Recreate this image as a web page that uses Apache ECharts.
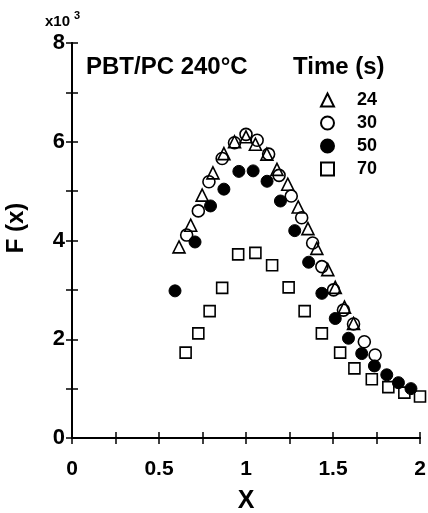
<!DOCTYPE html>
<html>
<head>
<meta charset="utf-8">
<script src="https://cdn.jsdelivr.net/npm/echarts@6/dist/echarts.min.js"></script>
<style>html,body{margin:0;padding:0;background:#fff}#c{width:428px;height:513px}</style>
</head>
<body>
<div id="c"></div>
<script>
// F(x) values in units of 10^3
const seriesNames = ['24', '30', '50', '70'];
const x24 = [0.615,0.682,0.748,0.81,0.873,0.934,1.0,1.054,1.12,1.178,1.24,1.30,1.356,1.407,1.47,1.513,1.566,1.618];
const y24 = [3.87,4.31,4.92,5.37,5.76,6.0,6.10,5.95,5.75,5.44,5.14,4.68,4.24,3.84,3.41,3.05,2.65,2.32];
const x30 = [0.659,0.726,0.787,0.863,0.934,1.0,1.064,1.13,1.19,1.26,1.32,1.383,1.436,1.503,1.56,1.618,1.68,1.742];
const y30 = [4.11,4.6,5.19,5.66,5.98,6.15,6.03,5.75,5.32,4.9,4.46,3.95,3.47,3.0,2.59,2.31,1.95,1.68];
const x50 = [0.592,0.707,0.796,0.873,0.959,1.041,1.121,1.198,1.28,1.36,1.436,1.513,1.589,1.665,1.738,1.809,1.876,1.948];
const y50 = [2.98,3.97,4.70,5.04,5.40,5.41,5.20,4.80,4.20,3.56,2.93,2.42,2.02,1.71,1.46,1.28,1.12,1.0];
const x70 = [0.653,0.726,0.791,0.863,0.955,1.054,1.15,1.245,1.337,1.436,1.541,1.623,1.723,1.818,1.91,2.0];
const y70 = [1.73,2.12,2.57,3.04,3.72,3.75,3.50,3.05,2.57,2.12,1.73,1.41,1.19,1.03,0.92,0.84];
const xTicks = [0, 0.5, 1, 1.5, 2];
const yTicks = [0, 2, 4, 6, 8];

const zip = (a, b) => a.map((v, i) => [v, b[i]]);
const FONT = '"Liberation Sans", Arial, Helvetica, sans-serif';

const chart = echarts.init(document.getElementById('c'), null, {renderer: 'canvas'});

const axisLineStyle = {color: '#000', width: 2};
const tickStyle = {color: '#000', width: 1.5};
const openStyle = {color: 'rgba(255,255,255,0)', borderColor: '#000', borderWidth: 1.6, opacity: 1};

const option = {
  animation: false,
  backgroundColor: '#fff',
  textStyle: {fontFamily: FONT},
  grid: {left: 72, right: 8, top: 43, bottom: 75, containLabel: false, outerBoundsMode: 'none'},
  title: [
    {text: 'PBT/PC 240°C', left: 86, top: 55, padding: 0,
     textStyle: {fontFamily: FONT, fontSize: 24, fontWeight: 'bold', color: '#000', lineHeight: 24}},
    {text: 'Time (s)', left: 293, top: 55, padding: 0,
     textStyle: {fontFamily: FONT, fontSize: 24, fontWeight: 'bold', color: '#000', lineHeight: 24}},
    {text: 'x10{s|3}', left: 45, top: 14, padding: 0,
     textStyle: {fontFamily: FONT, fontSize: 15, fontWeight: 'bold', color: '#000', lineHeight: 15,
       rich: {s: {fontFamily: FONT, fontSize: 11, fontWeight: 'bold', color: '#000', padding: [0, 0, 12, 4]}}}}
  ],
  legend: {
    orient: 'vertical', left: 320, top: 91, padding: 0,
    itemWidth: 13, itemHeight: 13, itemGap: 5,
    data: seriesNames,
    textStyle: {fontFamily: FONT, fontSize: 18, fontWeight: 'bold', color: '#000', lineHeight: 18, padding: [0, 0, 0, 18]}
  },
  xAxis: [
    {type: 'value', min: 0, max: 2, interval: 0.5, position: 'bottom',
     name: 'X', nameLocation: 'middle', nameGap: 51,
     nameTextStyle: {fontFamily: FONT, fontSize: 25, fontWeight: 'bold', color: '#000'},
     axisLine: {show: true, lineStyle: axisLineStyle},
     axisTick: {show: true, inside: true, length: 6, lineStyle: tickStyle},
     minorTick: {show: true, splitNumber: 2, length: 6, lineStyle: tickStyle},
     splitLine: {show: false},
     axisLabel: {margin: 21, fontFamily: FONT, fontSize: 21, fontWeight: 'bold', color: '#000',
       customValues: xTicks}},
    {type: 'value', min: 0, max: 2, interval: 0.5, position: 'top',
     axisLine: {show: true, lineStyle: axisLineStyle},
     axisTick: {show: true, inside: true, length: 6, lineStyle: tickStyle},
     minorTick: {show: true, splitNumber: 2, length: 6, lineStyle: tickStyle},
     splitLine: {show: false}, axisLabel: {show: false}}
  ],
  yAxis: [
    {type: 'value', min: 0, max: 8, interval: 2, position: 'left',
     name: 'F (x)', nameLocation: 'middle', nameGap: 44, nameRotate: 90,
     nameTextStyle: {fontFamily: FONT, fontSize: 24, fontWeight: 'bold', color: '#000', padding: [0, 0, 0, 25]},
     axisLine: {show: true, lineStyle: axisLineStyle},
     axisTick: {show: true, inside: true, length: 6, lineStyle: tickStyle},
     minorTick: {show: true, splitNumber: 2, length: 6, lineStyle: tickStyle},
     splitLine: {show: false},
     axisLabel: {margin: 7, fontFamily: FONT, fontSize: 22, fontWeight: 'bold', color: '#000',
       customValues: yTicks}},
    {type: 'value', min: 0, max: 8, interval: 2, position: 'right',
     axisLine: {show: true, lineStyle: axisLineStyle},
     axisTick: {show: true, inside: true, length: 6, lineStyle: tickStyle},
     minorTick: {show: true, splitNumber: 2, length: 6, lineStyle: tickStyle},
     splitLine: {show: false}, axisLabel: {show: false}}
  ],
  series: [
    {name: '24', type: 'scatter', symbol: 'triangle', symbolSize: 12, clip: false,
     itemStyle: openStyle, data: zip(x24, y24)},
    {name: '30', type: 'scatter', symbol: 'circle', symbolSize: 12, clip: false,
     itemStyle: openStyle, data: zip(x30, y30)},
    {name: '50', type: 'scatter', symbol: 'circle', symbolSize: 12, clip: false,
     itemStyle: {color: '#000', borderColor: '#000', borderWidth: 1, opacity: 1},
     data: zip(x50, y50)},
    {name: '70', type: 'scatter', symbol: 'rect', symbolSize: 11, clip: false,
     itemStyle: openStyle, data: zip(x70, y70)}
  ]
};
chart.setOption(option);
</script>
</body>
</html>
